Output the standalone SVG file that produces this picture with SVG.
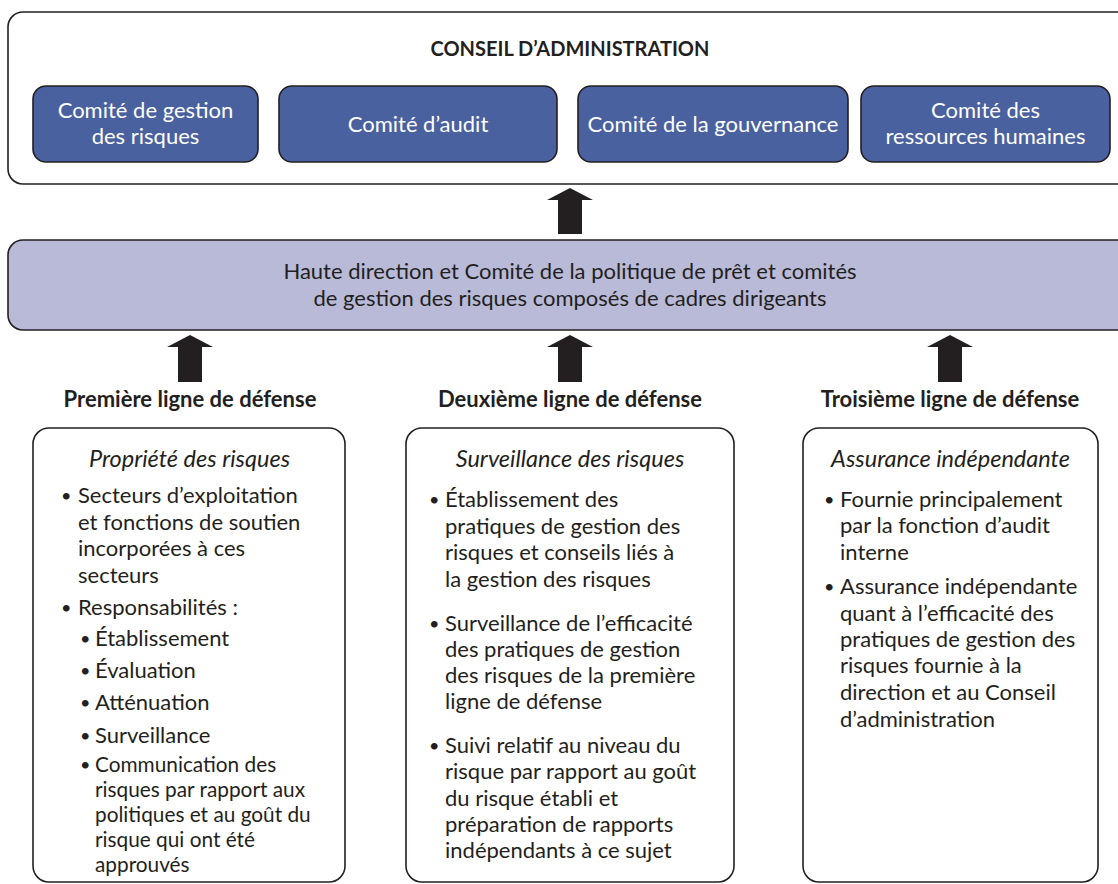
<svg xmlns="http://www.w3.org/2000/svg" width="1118" height="884" viewBox="0 0 1118 884">
<style>
text{font-family:Lato,"Open Sans","Liberation Sans",sans-serif;fill:#231f20;font-size:22px}
.c{text-anchor:middle}
.w{fill:#ffffff}
.b{font-weight:bold}
.t{font-size:20px}
.i{font-style:italic;font-size:23.5px}
.d{font-size:18px}
.s{font-size:20.8px}
.frame{fill:#ffffff;stroke:#231f20;stroke-width:1.6}
.com{fill:#4a619f;stroke:#231f20;stroke-width:1.6}
.band{fill:#b9bad8;stroke:#231f20;stroke-width:1.6}
.arr{fill:#231f20}
</style>
<g id="conseil">
<rect class="frame" x="8" y="12" width="1130" height="172" rx="15"/>
<text class="c b t" x="570" y="56">CONSEIL D’ADMINISTRATION</text>
</g>
<g id="comite-risques">
<rect class="com" x="33" y="86" width="225" height="76" rx="13"/>
<text class="c w" x="145.5" y="118">Comité de gestion</text>
<text class="c w" x="145.5" y="144">des risques</text>
</g>
<g id="comite-audit">
<rect class="com" x="279" y="86" width="278" height="76" rx="13"/>
<text class="c w" x="418" y="132">Comité d’audit</text>
</g>
<g id="comite-gouvernance">
<rect class="com" x="578" y="86" width="270" height="76" rx="13"/>
<text class="c w" x="713" y="132">Comité de la gouvernance</text>
</g>
<g id="comite-rh">
<rect class="com" x="861" y="86" width="249" height="76" rx="13"/>
<text class="c w" x="985.5" y="118">Comité des</text>
<text class="c w" x="985.5" y="144">ressources humaines</text>
</g>
<g id="haute-direction">
<rect class="band" x="8" y="240" width="1130" height="90" rx="15"/>
<text class="c" x="570" y="279">Haute direction et Comité de la politique de prêt et comités</text>
<text class="c" x="570" y="306">de gestion des risques composés de cadres dirigeants</text>
</g>
<g id="connectors">
<polygon class="arr" points="570,188 593,200 582,200 582,234 558,234 558,200 547,200"/>
<polygon class="arr" points="190,335 213,347 202,347 202,382 178,382 178,347 167,347"/>
<polygon class="arr" points="570,335 593,347 582,347 582,382 558,382 558,347 547,347"/>
<polygon class="arr" points="950,335 973,347 962,347 962,382 938,382 938,347 927,347"/>
</g>
<g id="premiere-ligne">
<text class="c b" x="190" y="407">Première ligne de défense</text>
<rect class="frame" x="33" y="428" width="312" height="454" rx="16"/>
<text class="c i" x="189.5" y="467">Propriété des risques</text>
<text class="d" x="61" y="502">•</text>
<text x="78" y="503">Secteurs d’exploitation</text>
<text x="78" y="530">et fonctions de soutien</text>
<text x="78" y="556">incorporées à ces</text>
<text x="78" y="583">secteurs</text>
<text class="d" x="61" y="614">•</text>
<text x="78" y="615">Responsabilités :</text>
<text class="d" x="80" y="645">•</text>
<text x="95" y="646">Établissement</text>
<text class="d" x="80" y="677">•</text>
<text x="95" y="678">Évaluation</text>
<text class="d" x="80" y="709">•</text>
<text x="95" y="710">Atténuation</text>
<text class="d" x="80" y="742">•</text>
<text x="95" y="743">Surveillance</text>
<text class="d" x="80" y="771">•</text>
<text class="s" x="95" y="772">Communication des</text>
<text class="s" x="95" y="797">risques par rapport aux</text>
<text class="s" x="95" y="822">politiques et au goût du</text>
<text class="s" x="95" y="847">risque qui ont été</text>
<text class="s" x="95" y="872">approuvés</text>
</g>
<g id="deuxieme-ligne">
<text class="c b" x="570" y="407">Deuxième ligne de défense</text>
<rect class="frame" x="406" y="428" width="328" height="454" rx="16"/>
<text class="c i" x="570" y="467">Surveillance des risques</text>
<text class="d" x="429" y="506">•</text>
<text x="445" y="507">Établissement des</text>
<text x="445" y="534">pratiques de gestion des</text>
<text x="445" y="560">risques et conseils liés à</text>
<text x="445" y="587">la gestion des risques</text>
<text class="d" x="429" y="630">•</text>
<text x="445" y="631">Surveillance de l’efficacité</text>
<text x="445" y="657">des pratiques de gestion</text>
<text x="445" y="683">des risques de la première</text>
<text x="445" y="709">ligne de défense</text>
<text class="d" x="429" y="752">•</text>
<text x="445" y="753">Suivi relatif au niveau du</text>
<text x="445" y="779">risque par rapport au goût</text>
<text x="445" y="806">du risque établi et</text>
<text x="445" y="832">préparation de rapports</text>
<text x="445" y="858">indépendants à ce sujet</text>
</g>
<g id="troisieme-ligne">
<text class="c b" x="950" y="407">Troisième ligne de défense</text>
<rect class="frame" x="803" y="428" width="295" height="454" rx="16"/>
<text class="c i" x="950.5" y="467">Assurance indépendante</text>
<text class="d" x="824" y="506">•</text>
<text x="840" y="507">Fournie principalement</text>
<text x="840" y="533">par la fonction d’audit</text>
<text x="840" y="560">interne</text>
<text class="d" x="824" y="593">•</text>
<text x="840" y="594">Assurance indépendante</text>
<text x="840" y="621">quant à l’efficacité des</text>
<text x="840" y="647">pratiques de gestion des</text>
<text x="840" y="673">risques fournie à la</text>
<text x="840" y="700">direction et au Conseil</text>
<text x="840" y="727">d’administration</text>
</g>
</svg>
